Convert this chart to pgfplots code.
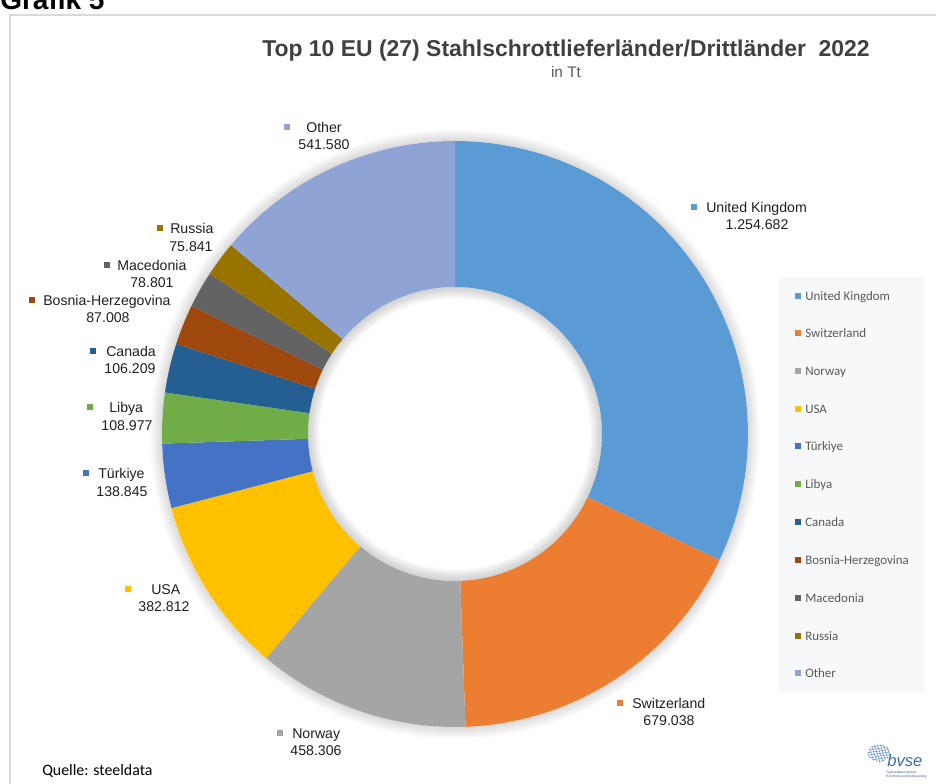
\documentclass[border=0pt]{standalone}
\usepackage{pgfplots}
\pgfplotsset{compat=1.18}
\usepackage{pgfplotstable}
\usepackage{fontspec}
\setmainfont{Liberation Sans}
\newfontfamily\calibri{Carlito}

\definecolor{s0}{HTML}{5B9BD5}
\definecolor{s1}{HTML}{ED7D31}
\definecolor{s2}{HTML}{A5A5A5}
\definecolor{s3}{HTML}{FFC000}
\definecolor{s4}{HTML}{4472C4}
\definecolor{s5}{HTML}{70AD47}
\definecolor{s6}{HTML}{255E91}
\definecolor{s7}{HTML}{9E480E}
\definecolor{s8}{HTML}{636363}
\definecolor{s9}{HTML}{997300}
\definecolor{s10}{HTML}{8FA3D5}
\definecolor{legbg}{RGB}{246,248,250}
\definecolor{framegray}{HTML}{D9D9D9}
\definecolor{titlegray}{HTML}{404040}
\definecolor{legtext}{HTML}{595959}
\definecolor{bvse}{HTML}{3B6DB3}

% values in Tt (thousands), order clockwise from 12 o'clock
\pgfplotstableread[col sep=comma]{
country,value
United Kingdom,1254.682
Switzerland,679.038
Norway,458.306
USA,382.812
Türkiye,138.845
Libya,108.977
Canada,106.209
Bosnia-Herzegovina,87.008
Macedonia,78.801
Russia,75.841
Other,541.580
}\shares

\tikzset{
  lab/.style={inner sep=0pt, font=\fontsize{10.6}{12}\selectfont, text=black!88, text height=7.6pt, text depth=0pt},
  leg/.style={inner sep=0pt, anchor=west, font=\calibri\fontsize{9.7}{11}\selectfont, text=legtext, text height=6.25pt, text depth=0pt},
}
% square marker, name, value
\newcommand\lbl[8]{%
  \fill[#1] (#2,#3) ++(-2.6pt,-2.6pt) rectangle ++(5.2pt,5.2pt);
  \node[lab, anchor=west] at (#4,#3) {#5};
  \node[lab] at (#6,#7) {#8};
}
\newcommand\legentry[3]{%
  \fill[#1] (798,#2) ++(-2.5pt,-2.5pt) rectangle ++(5pt,5pt);
  \node[leg] at (805,#2) {#3};
}

\begin{document}
\begin{tikzpicture}
% start and end angles of the slices
\xdef\total{0}
\foreach \i in {0,...,10}{%
  \pgfplotstablegetelem{\i}{value}\of\shares
  \pgfmathparse{\total+\pgfplotsretval}\xdef\total{\pgfmathresult}}
\xdef\cum{0}
\foreach \i in {0,...,10}{%
  \pgfplotstablegetelem{\i}{value}\of\shares
  \pgfmathparse{90-360*(\cum/\total)}\expandafter\xdef\csname sa\i\endcsname{\pgfmathresult}
  \pgfmathparse{\cum+\pgfplotsretval}\xdef\cum{\pgfmathresult}
  \pgfmathparse{90-360*(\cum/\total)}\expandafter\xdef\csname ea\i\endcsname{\pgfmathresult}}

% background bits in pixel coordinates (y down)
\begin{scope}[x=0.75pt, y=-0.75pt, shift={(0,588pt)}]
  \draw[framegray, line width=1.1pt] (10,800) -- (10,15) -- (950,15);
  \foreach \k in {1,...,12}{
    \fill[black, opacity=0.013, even odd rule] (455,434) circle[radius={(293+\k)*0.75pt}] (455,434) circle[radius=219.75pt];
    \fill[black, opacity=0.016, even odd rule] (455,434) circle[radius=110.25pt] (455,434) circle[radius={(147-\k)*0.75pt}];
  }
  \fill[legbg] (779,277) rectangle (924,693);
\end{scope}

\begin{axis}[
    name=ax, at={(0,0)}, anchor=south west,
    width=702pt, height=588pt, scale only axis,
    xmin=0, xmax=936, ymin=0, ymax=784, y dir=reverse,
    hide axis, clip=false,
    declare function={
      rr(\s)=(\s<61)*293+(\s>60)*147;
      ang(\s,\p,\q)=(\s<61)*(\p+(\q-\p)*\s/60)+(\s>60)*(\q-(\q-\p)*(\s-61)/60);
    },
  ]
  \pgfplotsinvokeforeach{0,...,10}{
    \addplot[fill=s#1, draw=none, mark=none, samples at={0,...,121}, variable=\t]
      ({455+rr(\t)*cos(ang(\t,\csname sa#1\endcsname,\csname ea#1\endcsname))},
       {434-rr(\t)*sin(ang(\t,\csname sa#1\endcsname,\csname ea#1\endcsname))});
  }
\end{axis}

\begin{scope}[x=0.75pt, y=-0.75pt, shift={(0,588pt)}]
  \node[anchor=base west, inner sep=0pt, font=\bfseries\fontsize{21}{24}\selectfont] at (0,10) {Grafik 5};
  \node[inner sep=0pt, font=\bfseries\fontsize{17.2}{20}\selectfont, text=titlegray, text height=12.3pt, text depth=0pt] at (566,48.5) {Top 10 EU (27) Stahlschrottlieferländer/Drittländer\ \ 2022};
  \node[inner sep=0pt, font=\fontsize{11.5}{13}\selectfont, text=legtext, text height=8.2pt, text depth=0pt] at (566,72) {in Tt};

  \lbl{s0}{694}{207}{706}{United Kingdom}{757}{224}{1.254.682}
  \lbl{s1}{620}{703}{632}{Switzerland}{669}{720}{679.038}
  \lbl{s2}{280}{733}{292}{Norway}{316}{750}{458.306}
  \lbl{s3}{128}{589}{151}{USA}{164}{606}{382.812}
  \lbl{s4}{86}{473}{98}{Türkiye}{122}{491}{138.845}
  \lbl{s5}{90}{407}{109}{Libya}{127}{425}{108.977}
  \lbl{s6}{93}{351}{106}{Canada}{130}{368}{106.209}
  \lbl{s7}{32}{300}{43}{Bosnia-Herzegovina}{108}{317}{87.008}
  \lbl{s8}{107}{265}{117}{Macedonia}{152}{282}{78.801}
  \lbl{s9}{160}{228}{170}{Russia}{191}{246}{75.841}
  \lbl{s10}{287}{127}{306}{Other}{324}{144}{541.580}

  \legentry{s0}{296}{United Kingdom}
  \legentry{s1}{333}{Switzerland}
  \legentry{s2}{371}{Norway}
  \legentry{s3}{409}{USA}
  \legentry{s4}{446}{Türkiye}
  \legentry{s5}{484}{Libya}
  \legentry{s6}{522}{Canada}
  \legentry{s7}{560}{Bosnia-Herzegovina}
  \legentry{s8}{598}{Macedonia}
  \legentry{s9}{636}{Russia}
  \legentry{s10}{673}{Other}

  \node[anchor=base west, inner sep=0pt, font=\calibri\fontsize{11.9}{14}\selectfont] at (42,776) {Quelle: steeldata};

  % bvse logo
  \begin{scope}
    \clip (879,753) ellipse [x radius=8.5pt, y radius=6.5pt];
    \foreach \k in {-6,...,6}{
      \draw[bvse!80, line width=0.35pt] (879+3*\k,741) -- (879+3*\k+8,765);
      \draw[bvse!80, line width=0.35pt] (866,753+2.6*\k) -- (892,749+2.6*\k);
    }
  \end{scope}
  \node[anchor=base west, inner sep=0pt, font=\itshape\fontsize{12.5}{14}\selectfont, text=bvse] at (887,767) {bvse};
  \node[anchor=north west, inner sep=0pt, align=left, font=\fontsize{2.4}{3.2}\selectfont, text=bvse!70!black] at (886,771) {Fachverband Schrott,\\E-Schrott und Kfz-Recycling};
\end{scope}

\pgfresetboundingbox
\useasboundingbox (0,0) rectangle (702pt,588pt);
\end{tikzpicture}
\end{document}
